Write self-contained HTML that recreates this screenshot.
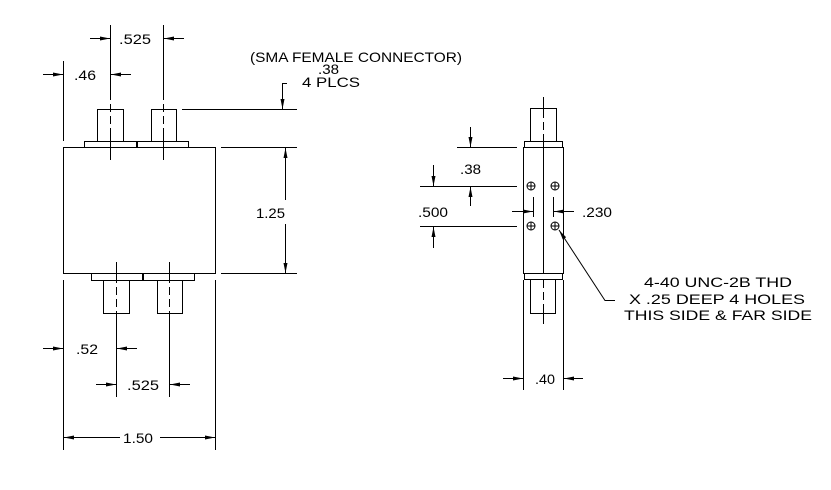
<!DOCTYPE html>
<html><head><meta charset="utf-8"><style>
html,body{margin:0;padding:0;background:#fff}
svg{display:block}
text{font-family:"Liberation Sans",sans-serif;font-size:14px;fill:#000}
</style></head><body>
<svg width="831" height="490" viewBox="0 0 831 490" xmlns="http://www.w3.org/2000/svg">
<defs>
<marker id="a" markerWidth="10" markerHeight="6" refX="10" refY="3" orient="auto" markerUnits="userSpaceOnUse">
<path d="M0,1 L10,3 L0,5 z" fill="#000"/></marker>
</defs>
<g stroke="#000" stroke-width="1" fill="none">
<rect x="63.5" y="147.5" width="152" height="126"/>
<rect x="84.5" y="141.5" width="52" height="6"/>
<rect x="137.5" y="141.5" width="51" height="6"/>
<rect x="97.5" y="109.5" width="26" height="32"/>
<rect x="151.5" y="109.5" width="25" height="32"/>
<rect x="91.5" y="273.5" width="51" height="7"/>
<rect x="143.5" y="273.5" width="51" height="7"/>
<rect x="103.5" y="280.5" width="26" height="33"/>
<rect x="157.5" y="280.5" width="25" height="33"/>
<path d="M110.5 25V100 M110.5 104V112 M110.5 116V124 M110.5 128V147"/>
<path d="M163.5 25V100 M163.5 104V112 M163.5 116V124 M163.5 128V147"/>
<path d="M110.5 147V160 M163.5 147V160"/>
<path d="M116.5 262V283 M116.5 287V295 M116.5 299V307 M116.5 311V397"/>
<path d="M169.5 262V283 M169.5 287V295 M169.5 299V307 M169.5 311V397"/>
<line x1="90" y1="38.5" x2="110" y2="38.5" marker-end="url(#a)"/>
<line x1="184" y1="38.5" x2="164" y2="38.5" marker-end="url(#a)"/>
<line x1="63.5" y1="61" x2="63.5" y2="141"/>
<line x1="43" y1="74.5" x2="63" y2="74.5" marker-end="url(#a)"/>
<line x1="131" y1="74.5" x2="111" y2="74.5" marker-end="url(#a)"/>
<line x1="182" y1="109.5" x2="297" y2="109.5"/>
<path d="M287 83.5H282.5V109" marker-end="url(#a)"/>
<line x1="221" y1="147.5" x2="297" y2="147.5"/>
<line x1="221" y1="273.5" x2="297" y2="273.5"/>
<line x1="285.5" y1="200" x2="285.5" y2="148" marker-end="url(#a)"/>
<line x1="285.5" y1="224" x2="285.5" y2="273" marker-end="url(#a)"/>
<line x1="63.5" y1="280" x2="63.5" y2="450"/>
<line x1="215.5" y1="280" x2="215.5" y2="450"/>
<line x1="43" y1="348.5" x2="63" y2="348.5" marker-end="url(#a)"/>
<line x1="137" y1="348.5" x2="117" y2="348.5" marker-end="url(#a)"/>
<line x1="96" y1="384.5" x2="116" y2="384.5" marker-end="url(#a)"/>
<line x1="190" y1="384.5" x2="170" y2="384.5" marker-end="url(#a)"/>
<line x1="120" y1="437.5" x2="64" y2="437.5" marker-end="url(#a)"/>
<line x1="160" y1="437.5" x2="215" y2="437.5" marker-end="url(#a)"/>

<rect x="523.5" y="147.5" width="40" height="126"/>
<rect x="524.5" y="141.5" width="38" height="6"/>
<rect x="530.5" y="108.5" width="26" height="33"/>
<rect x="524.5" y="273.5" width="38" height="6"/>
<rect x="530.5" y="279.5" width="25" height="34"/>
<path d="M543.5 97V118 M543.5 122V130 M543.5 134V273"/>
<path d="M543.5 279V288 M543.5 292V300 M543.5 304V324"/>
<g>
<circle cx="531" cy="186" r="4"/><path d="M527 186H535M531 182V190"/>
<circle cx="555" cy="186" r="4"/><path d="M551 186H559M555 182V190"/>
<circle cx="531" cy="226" r="4"/><path d="M527 226H535M531 222V230"/>
<circle cx="555" cy="226" r="4"/><path d="M551 226H559M555 222V230"/>
</g>
<line x1="457" y1="147.5" x2="517" y2="147.5"/>
<line x1="420" y1="186.5" x2="517" y2="186.5"/>
<line x1="420" y1="226.5" x2="517" y2="226.5"/>
<line x1="470.5" y1="127" x2="470.5" y2="147" marker-end="url(#a)"/>
<line x1="470.5" y1="206" x2="470.5" y2="187" marker-end="url(#a)"/>
<line x1="433.5" y1="165" x2="433.5" y2="186" marker-end="url(#a)"/>
<line x1="433.5" y1="248" x2="433.5" y2="227" marker-end="url(#a)"/>
<line x1="533.5" y1="197" x2="533.5" y2="217"/>
<line x1="553.5" y1="197" x2="553.5" y2="217"/>
<line x1="512" y1="211.5" x2="533" y2="211.5" marker-end="url(#a)"/>
<line x1="574" y1="211.5" x2="554" y2="211.5" marker-end="url(#a)"/>
<line x1="523.5" y1="280" x2="523.5" y2="390"/>
<line x1="563.5" y1="280" x2="563.5" y2="390"/>
<line x1="503" y1="378.5" x2="523" y2="378.5" marker-end="url(#a)"/>
<line x1="583" y1="378.5" x2="564" y2="378.5" marker-end="url(#a)"/>
<path d="M615 300.5H605L559 230" marker-end="url(#a)"/>
</g>
<text x="119" y="44" textLength="32" lengthAdjust="spacingAndGlyphs">.525</text>
<text x="74" y="80" textLength="22" lengthAdjust="spacingAndGlyphs">.46</text>
<text x="250" y="62" textLength="212" lengthAdjust="spacingAndGlyphs">(SMA FEMALE CONNECTOR)</text>
<text x="318" y="74" textLength="21" lengthAdjust="spacingAndGlyphs">.38</text>
<text x="302" y="87" textLength="58" lengthAdjust="spacingAndGlyphs">4 PLCS</text>
<text x="256" y="218" textLength="29" lengthAdjust="spacingAndGlyphs">1.25</text>
<text x="76" y="354" textLength="22" lengthAdjust="spacingAndGlyphs">.52</text>
<text x="127" y="390" textLength="32" lengthAdjust="spacingAndGlyphs">.525</text>
<text x="123" y="443" textLength="30" lengthAdjust="spacingAndGlyphs">1.50</text>
<text x="460" y="174" textLength="21" lengthAdjust="spacingAndGlyphs">.38</text>
<text x="418" y="217" textLength="30" lengthAdjust="spacingAndGlyphs">.500</text>
<text x="582" y="217" textLength="30" lengthAdjust="spacingAndGlyphs">.230</text>
<text x="535" y="384" textLength="20" lengthAdjust="spacingAndGlyphs">.40</text>
<text x="644" y="287" textLength="148" lengthAdjust="spacingAndGlyphs">4-40 UNC-2B THD</text>
<text x="629" y="304" textLength="176" lengthAdjust="spacingAndGlyphs">X .25 DEEP 4 HOLES</text>
<text x="624" y="320" textLength="188" lengthAdjust="spacingAndGlyphs">THIS SIDE &amp; FAR SIDE</text>
</svg>
</body></html>
